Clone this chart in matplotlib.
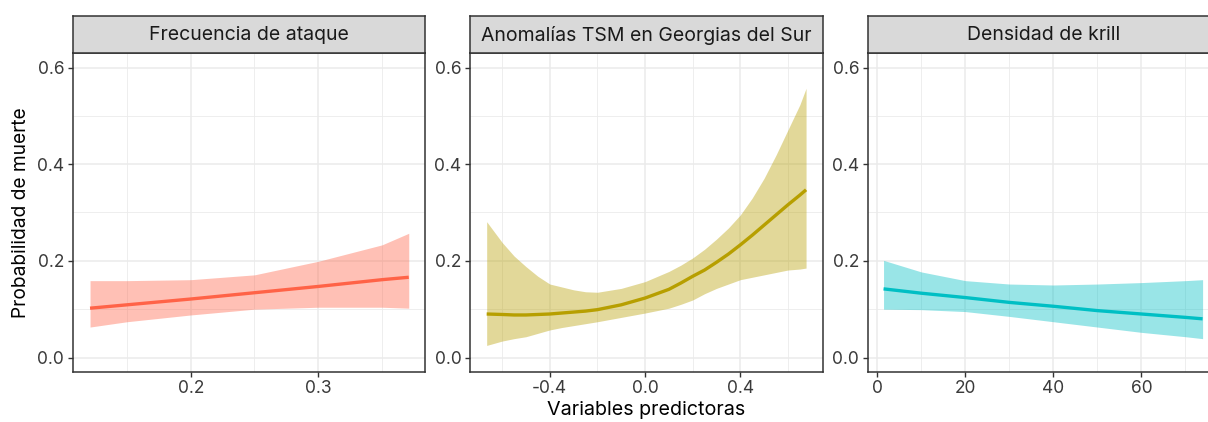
import numpy as np
import matplotlib.pyplot as plt
from matplotlib.ticker import MultipleLocator

plt.rcParams['font.family'] = ['Inter', 'DejaVu Sans']

# --- data ---
titles = ["Frecuencia de ataque", "Anomalías TSM en Georgias del Sur", "Densidad de krill"]

ataque_x = [0.121, 0.15, 0.20, 0.25, 0.30, 0.35, 0.371]
ataque_fit = [0.102, 0.109, 0.121, 0.134, 0.147, 0.161, 0.166]
ataque_hi = [0.159, 0.159, 0.161, 0.171, 0.199, 0.233, 0.257]
ataque_lo = [0.063, 0.074, 0.088, 0.100, 0.104, 0.104, 0.102]

tsm_x = [-0.665, -0.6, -0.55, -0.5, -0.45, -0.4, -0.35, -0.3, -0.25, -0.2, -0.1, 0.0,
         0.1, 0.15, 0.2, 0.25, 0.3, 0.35, 0.4, 0.45, 0.5, 0.55, 0.6, 0.65, 0.676]
tsm_fit = [0.090, 0.089, 0.088, 0.088, 0.089, 0.090, 0.092, 0.094, 0.096, 0.099, 0.109, 0.123,
           0.141, 0.154, 0.168, 0.181, 0.197, 0.214, 0.233, 0.253, 0.274, 0.295, 0.316, 0.336, 0.347]
tsm_hi = [0.281, 0.238, 0.210, 0.188, 0.168, 0.152, 0.146, 0.140, 0.136, 0.135, 0.143, 0.157,
          0.178, 0.191, 0.206, 0.224, 0.245, 0.268, 0.295, 0.330, 0.371, 0.419, 0.471, 0.523, 0.557]
tsm_lo = [0.025, 0.034, 0.039, 0.043, 0.050, 0.057, 0.062, 0.066, 0.070, 0.074, 0.083, 0.092,
          0.102, 0.110, 0.119, 0.132, 0.143, 0.152, 0.161, 0.166, 0.171, 0.176, 0.181, 0.183, 0.185]

krill_x = [1.4, 10, 20, 30, 40, 50, 60, 70, 73.9]
krill_fit = [0.142, 0.133, 0.124, 0.114, 0.106, 0.097, 0.090, 0.083, 0.080]
krill_hi = [0.201, 0.177, 0.159, 0.152, 0.150, 0.152, 0.155, 0.159, 0.161]
krill_lo = [0.100, 0.099, 0.095, 0.085, 0.074, 0.063, 0.052, 0.043, 0.039]

colors = ["#FF6347", "#B79F00", "#00BFC4"]

panels = [
    (ataque_x, ataque_fit, ataque_lo, ataque_hi, [0.2, 0.3], (0.1074, 0.3839), 0.05),
    (tsm_x, tsm_fit, tsm_lo, tsm_hi, [-0.4, 0.0, 0.4], (-0.735, 0.745), 0.2),
    (krill_x, krill_fit, krill_lo, krill_hi, [0, 20, 40, 60], (-2.2, 77.9), 10),
]

W, H = 1208, 422
fig = plt.figure(figsize=(W / 100, H / 100), dpi=100)

lefts = [72.7, 470, 867.7]
pw = 352.5
top, bottom, strip_top = 53, 372, 15.7

for i, (x, fit, lo, hi, xt, xl, minor) in enumerate(panels):
    ax = fig.add_axes([lefts[i] / W, 1 - bottom / H, pw / W, (bottom - top) / H])
    ax.fill_between(x, lo, hi, color=colors[i], alpha=0.4, linewidth=0)
    ax.plot(x, fit, color=colors[i], lw=2.4, solid_capstyle='butt', solid_joinstyle='round')
    ax.set_xlim(*xl)
    ax.set_ylim(-0.03, 0.63)
    ax.set_xticks(xt)
    ax.set_xticklabels([f"{v:.1f}" if isinstance(v, float) else str(v) for v in xt])
    ax.set_yticks([0.0, 0.2, 0.4, 0.6])
    ax.set_yticklabels(["0.0", "0.2", "0.4", "0.6"])
    ax.xaxis.set_minor_locator(MultipleLocator(minor))
    ax.yaxis.set_minor_locator(MultipleLocator(0.1))
    ax.grid(which='major', color='#EBEBEB', lw=1.1)
    ax.grid(which='minor', color='#EBEBEB', lw=0.6)
    ax.set_axisbelow(True)
    ax.tick_params(which='minor', length=0)
    ax.tick_params(which='major', length=3.6, width=1, color='#333333',
                   labelsize=12.5, labelcolor='#3A3A3A', pad=2.5)
    for s in ax.spines.values():
        s.set_color('#333333')
        s.set_linewidth(1.1)

    sax = fig.add_axes([lefts[i] / W, 1 - top / H, pw / W, (top - strip_top) / H])
    sax.set_facecolor('#D9D9D9')
    sax.set_xticks([])
    sax.set_yticks([])
    for s in sax.spines.values():
        s.set_color('#333333')
        s.set_linewidth(1.1)
    sax.text(0.5, 0.47, titles[i], ha='center', va='center', fontsize=14,
             color='#1A1A1A', transform=sax.transAxes)

fig.text(21 / W, 1 - 212.5 / H, "Probabilidad de muerte", rotation=90,
         ha='center', va='center', fontsize=13.8, color='black')
fig.text(646 / W, 1 - 410 / H, "Variables predictoras",
         ha='center', va='center', fontsize=14.2, color='black')

fig.savefig("out.png", dpi=100, facecolor='white')
